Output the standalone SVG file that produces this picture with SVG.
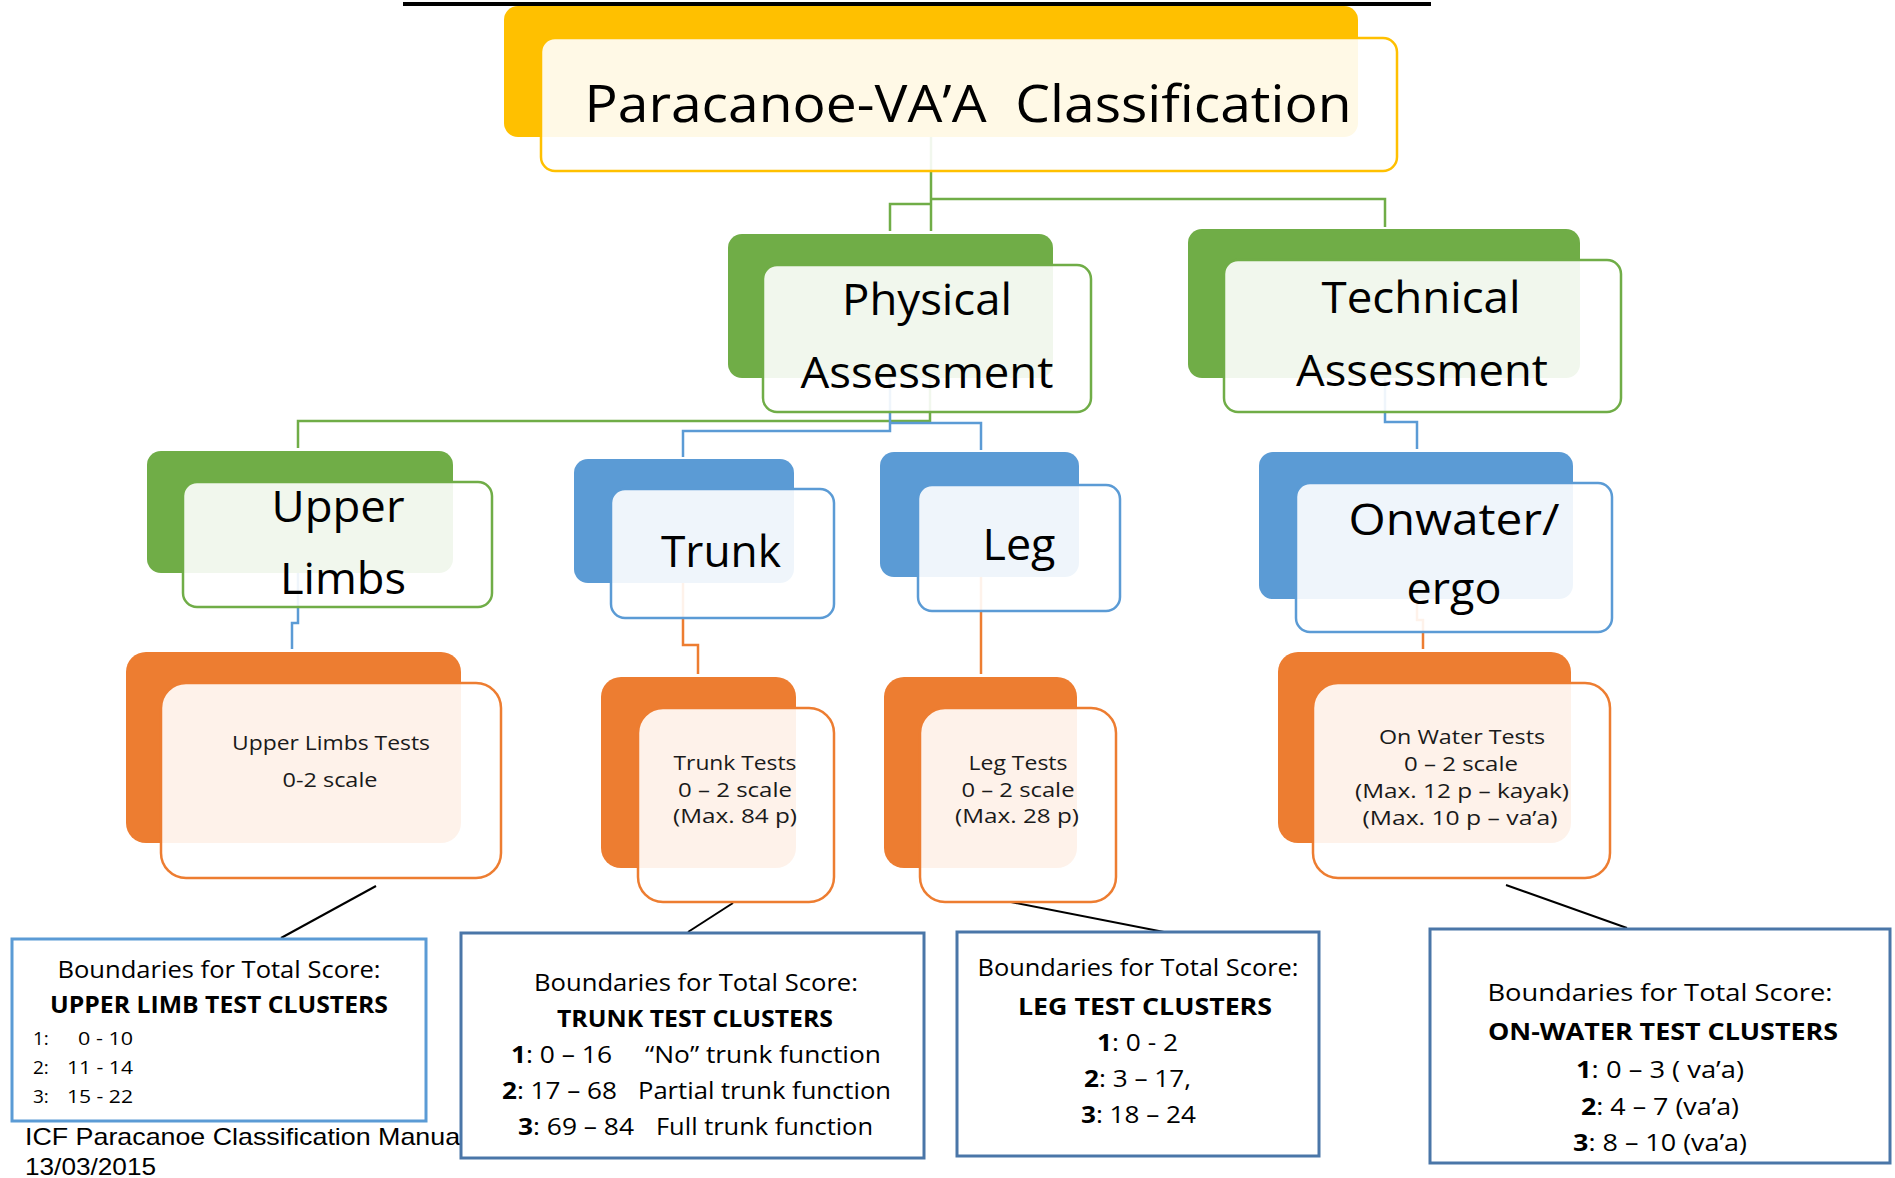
<svg xmlns="http://www.w3.org/2000/svg" width="1895" height="1178" viewBox="0 0 1895 1178">
<style>
 .g{fill:#70AD47} .b{fill:#5B9BD5} .o{fill:#ED7D31} .y{fill:#FFC000}
 .f{fill:#fff;fill-opacity:.9;stroke-width:2.5}
 .fg{stroke:#70AD47} .fb{stroke:#5B9BD5} .fo{stroke:#ED7D31} .fy{stroke:#FFC000}
 .cn{fill:none;stroke-width:2.5}
 .cg{stroke:#70AD47} .cb{stroke:#5B9BD5} .co{stroke:#ED7D31}
 .ptr{stroke:#000;stroke-width:2;fill:none}
 text{font-family:"Open Sans","Noto Sans",sans-serif;fill:#000}
 .t1{font-size:52px;text-anchor:middle}
 .t2{font-size:44px;text-anchor:middle}
 .t3{font-size:20px;text-anchor:middle;fill:#1a1a1a}
 .bx{fill:#fff;stroke-width:3}
 .bl1{stroke:#5B9BD5} .bl2{stroke:#4A76A8}
 .bt{font-size:24px;text-anchor:middle}
 .bs{font-size:23px}
 .bb{font-weight:bold}
 .sm{font-size:19px}
 .ft{font-family:"Liberation Sans",Arial,sans-serif;font-size:24px}
</style>
<line id="topline" x1="403" y1="4" x2="1431" y2="4" stroke="#000" stroke-width="4"/>
<g id="connectors">
 <path class="cn cg" d="M931,137 V231"/>
 <path class="cn cg" d="M931,204 H890 V231"/>
 <path class="cn cg" d="M931,199 H1385 V227"/>
 <path class="cn cg" d="M930,378 V421 H298 V448"/>
 <path class="cn cb" d="M890,378 V431 H683 V457"/>
 <path class="cn cb" d="M890,423 H981 V450"/>
 <path class="cn cb" d="M1385,378 V422 H1417 V449"/>
 <path class="cn cb" d="M298,573 V623 H292 V649"/>
 <path class="cn co" d="M683,583 V645 H698 V674"/>
 <path class="cn co" d="M981,577 V674"/>
 <path class="cn co" d="M1417,599 V620 H1423 V649"/>
 <path class="ptr" d="M376,886 L281,938"/>
 <path class="ptr" d="M733,903 L688,932"/>
 <path class="ptr" d="M1011,902 L1164,932"/>
 <path class="ptr" d="M1506,885 L1627,928"/>
</g>
<g id="title">
 <rect class="y" x="504" y="6" width="854" height="131" rx="14"/>
 <rect class="f fy" x="541" y="38" width="856" height="133" rx="14"/>
 <text class="t1" x="968" y="122" textLength="767" lengthAdjust="spacingAndGlyphs" xml:space="preserve">Paracanoe-VA’A  Classification</text>
</g>
<g id="physical">
 <rect class="g" x="728" y="234" width="325" height="144" rx="14"/>
 <rect class="f fg" x="763" y="265" width="328" height="147" rx="14"/>
 <text class="t2" x="927" y="315" textLength="170" lengthAdjust="spacingAndGlyphs">Physical</text>
 <text class="t2" x="927" y="388" textLength="253" lengthAdjust="spacingAndGlyphs">Assessment</text>
</g>
<g id="technical">
 <rect class="g" x="1188" y="229" width="392" height="149" rx="14"/>
 <rect class="f fg" x="1224" y="260" width="397" height="152" rx="14"/>
 <text class="t2" x="1421" y="313" textLength="199" lengthAdjust="spacingAndGlyphs">Technical</text>
 <text class="t2" x="1422" y="386" textLength="252" lengthAdjust="spacingAndGlyphs">Assessment</text>
</g>
<g id="upperlimbs">
 <rect class="g" x="147" y="451" width="306" height="122" rx="14"/>
 <rect class="f fg" x="183" y="482" width="309" height="125" rx="14"/>
 <text class="t2" x="338" y="522" textLength="133" lengthAdjust="spacingAndGlyphs">Upper</text>
 <text class="t2" x="343" y="594" textLength="126" lengthAdjust="spacingAndGlyphs">Limbs</text>
</g>
<g id="trunk">
 <rect class="b" x="574" y="459" width="220" height="124" rx="14"/>
 <rect class="f fb" x="611" y="489" width="223" height="129" rx="14"/>
 <text class="t2" x="721" y="567" textLength="120" lengthAdjust="spacingAndGlyphs">Trunk</text>
</g>
<g id="leg">
 <rect class="b" x="880" y="452" width="199" height="125" rx="14"/>
 <rect class="f fb" x="918" y="485" width="202" height="126" rx="14"/>
 <text class="t2" x="1019" y="560" textLength="73" lengthAdjust="spacingAndGlyphs">Leg</text>
</g>
<g id="onwater">
 <rect class="b" x="1259" y="452" width="314" height="147" rx="14"/>
 <rect class="f fb" x="1296" y="483" width="316" height="149" rx="14"/>
 <text class="t2" x="1454" y="535" textLength="211" lengthAdjust="spacingAndGlyphs">Onwater/</text>
 <text class="t2" x="1454" y="604" textLength="95" lengthAdjust="spacingAndGlyphs">ergo</text>
</g>
<g id="ultests">
 <rect class="o" x="126" y="652" width="335" height="191" rx="20"/>
 <rect class="f fo" x="161" y="683" width="340" height="195" rx="25"/>
 <text class="t3" x="331" y="750" textLength="198" lengthAdjust="spacingAndGlyphs">Upper Limbs Tests</text>
 <text class="t3" x="330" y="787" textLength="95" lengthAdjust="spacingAndGlyphs">0-2 scale</text>
</g>
<g id="trunktests">
 <rect class="o" x="601" y="677" width="195" height="191" rx="20"/>
 <rect class="f fo" x="638" y="708" width="196" height="194" rx="25"/>
 <text class="t3" x="735" y="770" textLength="123" lengthAdjust="spacingAndGlyphs">Trunk Tests</text>
 <text class="t3" x="735" y="797" textLength="114" lengthAdjust="spacingAndGlyphs">0 – 2 scale</text>
 <text class="t3" x="735" y="823" textLength="124" lengthAdjust="spacingAndGlyphs">(Max. 84 p)</text>
</g>
<g id="legtests">
 <rect class="o" x="884" y="677" width="193" height="191" rx="20"/>
 <rect class="f fo" x="920" y="708" width="196" height="194" rx="25"/>
 <text class="t3" x="1018" y="770" textLength="99" lengthAdjust="spacingAndGlyphs">Leg Tests</text>
 <text class="t3" x="1018" y="797" textLength="113" lengthAdjust="spacingAndGlyphs">0 – 2 scale</text>
 <text class="t3" x="1017" y="823" textLength="124" lengthAdjust="spacingAndGlyphs">(Max. 28 p)</text>
</g>
<g id="owtests">
 <rect class="o" x="1278" y="652" width="293" height="191" rx="20"/>
 <rect class="f fo" x="1313" y="683" width="297" height="195" rx="25"/>
 <text class="t3" x="1462" y="744" textLength="166" lengthAdjust="spacingAndGlyphs">On Water Tests</text>
 <text class="t3" x="1461" y="771" textLength="114" lengthAdjust="spacingAndGlyphs">0 – 2 scale</text>
 <text class="t3" x="1462" y="798" textLength="214" lengthAdjust="spacingAndGlyphs">(Max. 12 p – kayak)</text>
 <text class="t3" x="1460" y="825" textLength="195" lengthAdjust="spacingAndGlyphs">(Max. 10 p – va’a)</text>
</g>
<g id="footer">
 <text class="ft" x="25" y="1145" textLength="441" lengthAdjust="spacingAndGlyphs">ICF Paracanoe Classification Manual</text>
 <text class="ft" x="25" y="1175" textLength="131" lengthAdjust="spacingAndGlyphs">13/03/2015</text>
</g>
<g id="ulbox">
 <rect class="bx bl1" x="12" y="939" width="414" height="182"/>
 <text class="bt" x="219" y="978" textLength="323" lengthAdjust="spacingAndGlyphs">Boundaries for Total Score:</text>
 <text class="bt bb" x="219" y="1013" textLength="338" lengthAdjust="spacingAndGlyphs">UPPER LIMB TEST CLUSTERS</text>
 <text class="sm" x="33" y="1045">1:</text>
 <text class="sm" x="78" y="1045" textLength="55" lengthAdjust="spacingAndGlyphs">0 - 10</text>
 <text class="sm" x="33" y="1074">2:</text>
 <text class="sm" x="67" y="1074" textLength="66" lengthAdjust="spacingAndGlyphs">11 - 14</text>
 <text class="sm" x="33" y="1103">3:</text>
 <text class="sm" x="67" y="1103" textLength="66" lengthAdjust="spacingAndGlyphs">15 - 22</text>
</g>
<g id="trunkbox">
 <rect class="bx bl2" x="461" y="933" width="463" height="225"/>
 <text class="bt" x="696" y="991" textLength="324" lengthAdjust="spacingAndGlyphs">Boundaries for Total Score:</text>
 <text class="bt bb" x="695" y="1027" textLength="276" lengthAdjust="spacingAndGlyphs">TRUNK TEST CLUSTERS</text>
 <text class="bs" x="511" y="1063" textLength="101" lengthAdjust="spacingAndGlyphs"><tspan class="bb">1</tspan>: 0 – 16</text>
 <text class="bs" x="645" y="1063" textLength="236" lengthAdjust="spacingAndGlyphs">“No” trunk function</text>
 <text class="bs" x="502" y="1099" textLength="115" lengthAdjust="spacingAndGlyphs"><tspan class="bb">2</tspan>: 17 – 68</text>
 <text class="bs" x="638" y="1099" textLength="253" lengthAdjust="spacingAndGlyphs">Partial trunk function</text>
 <text class="bs" x="518" y="1135" textLength="116" lengthAdjust="spacingAndGlyphs"><tspan class="bb">3</tspan>: 69 – 84</text>
 <text class="bs" x="656" y="1135" textLength="217" lengthAdjust="spacingAndGlyphs">Full trunk function</text>
</g>
<g id="legbox">
 <rect class="bx bl2" x="957" y="932" width="362" height="224"/>
 <text class="bt" x="1138" y="976" textLength="321" lengthAdjust="spacingAndGlyphs">Boundaries for Total Score:</text>
 <text class="bt bb" x="1145" y="1015" textLength="254" lengthAdjust="spacingAndGlyphs">LEG TEST CLUSTERS</text>
 <text class="bs" x="1097" y="1051" textLength="81" lengthAdjust="spacingAndGlyphs"><tspan class="bb">1</tspan>: 0 - 2</text>
 <text class="bs" x="1084" y="1087" textLength="107" lengthAdjust="spacingAndGlyphs"><tspan class="bb">2</tspan>: 3 – 17,</text>
 <text class="bs" x="1081" y="1123" textLength="115" lengthAdjust="spacingAndGlyphs"><tspan class="bb">3</tspan>: 18 – 24</text>
</g>
<g id="owbox">
 <rect class="bx bl2" x="1430" y="929" width="460" height="234"/>
 <text class="bt" x="1660" y="1001" textLength="345" lengthAdjust="spacingAndGlyphs">Boundaries for Total Score:</text>
 <text class="bt bb" x="1663" y="1040" textLength="350" lengthAdjust="spacingAndGlyphs">ON-WATER TEST CLUSTERS</text>
 <text class="bs" x="1576" y="1078" textLength="168" lengthAdjust="spacingAndGlyphs"><tspan class="bb">1</tspan>: 0 – 3 ( va’a)</text>
 <text class="bs" x="1581" y="1115" textLength="158" lengthAdjust="spacingAndGlyphs"><tspan class="bb">2</tspan>: 4 – 7 (va’a)</text>
 <text class="bs" x="1573" y="1151" textLength="174" lengthAdjust="spacingAndGlyphs"><tspan class="bb">3</tspan>: 8 – 10 (va’a)</text>
</g>
</svg>
